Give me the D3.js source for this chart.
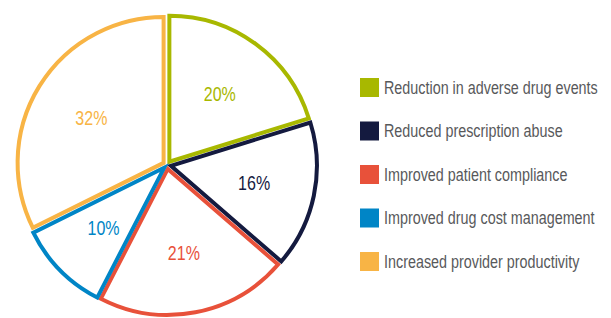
<!DOCTYPE html>
<html>
<head>
<meta charset="utf-8">
<script src="https://cdn.jsdelivr.net/npm/d3@7"></script>
<style>
  body { margin: 0; background: #fff; }
  text { font-family: "Liberation Sans", Arial, sans-serif; }
</style>
</head>
<body>
<svg width="611" height="318"></svg>
<script>
// chart data
const categories = [
  "Reduction in adverse drug events",
  "Reduced prescription abuse",
  "Improved patient compliance",
  "Improved drug cost management",
  "Increased provider productivity"
];
const values = [20, 16, 21, 10, 32];
const colors = ["#a8b800", "#141a3f", "#e8513a", "#0085c6", "#f8b445"];

const svg = d3.select("svg");

const cx = 167, cy = 165, radius = 151;
const strokeW = 4;
const squeeze = 0.82; // no condensed font installed, so squash the text

const pie = d3.pie().sort(null).value(d => d);
const arcs = pie(values);

const arc = d3.arc()
  .innerRadius(0)
  .outerRadius(radius - strokeW / 2 - 3);

const labelArc = d3.arc()
  .innerRadius(89)
  .outerRadius(89);

const g = svg.append("g")
  .attr("transform", `translate(${cx},${cy})`);

// each slice nudged outward a bit so the outlines don't touch
g.selectAll("path.slice")
  .data(arcs)
  .enter()
  .append("path")
  .attr("class", "slice")
  .attr("transform", d => {
    const a = (d.startAngle + d.endAngle) / 2;
    const off = 4;
    return `translate(${Math.sin(a) * off},${-Math.cos(a) * off})`;
  })
  .attr("d", arc)
  .attr("fill", "#fff")
  .attr("stroke", (d, i) => colors[i])
  .attr("stroke-width", strokeW)
  .attr("stroke-linejoin", "miter");

g.selectAll("text.pct")
  .data(arcs)
  .enter()
  .append("text")
  .attr("class", "pct")
  .attr("transform", d => `translate(${labelArc.centroid(d)}) scale(0.8,1)`)
  .attr("text-anchor", "middle")
  .attr("dy", "0.36em")
  .style("font-size", "20px")
  .style("fill", (d, i) => colors[i])
  .text(d => d.data + "%");

// legend
const legendY = d3.scalePoint()
  .domain(categories)
  .range([87.5, 261.5]);

const legend = svg.append("g");

legend.selectAll("rect")
  .data(categories)
  .enter()
  .append("rect")
  .attr("x", 360)
  .attr("y", d => legendY(d) - 9.5)
  .attr("width", 19)
  .attr("height", 19)
  .attr("fill", (d, i) => colors[i]);

legend.selectAll("text")
  .data(categories)
  .enter()
  .append("text")
  .attr("transform", d => `translate(384,${legendY(d)}) scale(${squeeze},1)`)
  .attr("dy", "0.36em")
  .style("font-size", "17.5px")
  .style("fill", "#58595b")
  .text(d => d);
</script>
</body>
</html>
